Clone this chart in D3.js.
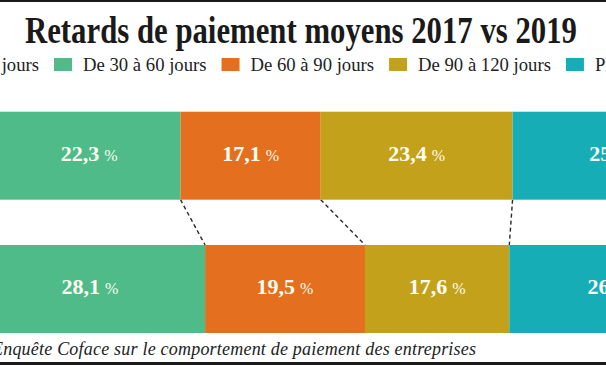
<!DOCTYPE html>
<html>
<head>
<meta charset="utf-8">
<script src="https://cdn.jsdelivr.net/npm/d3@7"></script>
<style>
  html, body { margin: 0; padding: 0; background: #ffffff; }
  svg { display: block; }
</style>
</head>
<body>
<svg id="chart" width="606" height="365"></svg>
<script>
// ---- Data ----
const title = "Retards de paiement moyens 2017 vs 2019";
const source = "Enquête Coface sur le comportement de paiement des entreprises";
const categories = ["Moins de 30 jours", "De 30 à 60 jours", "De 60 à 90 jours", "De 90 à 120 jours", "Plus de 120 jours"];
const years = ["2017", "2019"];
const values2017 = [11.6, 22.3, 17.1, 23.4, 25.6];
const values2019 = [8.8, 28.1, 19.5, 17.6, 26.0];
const colors = ["#8c8f93", "#4fbb89", "#e4701f", "#c4a11b", "#16adb7"];

// ---- Layout ----
const W = 606, H = 365;
const svg = d3.select("#chart");
const serif = "'Liberation Serif', 'Times New Roman', serif";

svg.append("rect").attr("width", W).attr("height", H).attr("fill", "#ffffff");
svg.append("rect").attr("x", 0).attr("y", 0).attr("width", W).attr("height", 2).attr("fill", "#1a1a1a");
svg.append("rect").attr("x", 0).attr("y", 362).attr("width", W).attr("height", 3).attr("fill", "#1a1a1a");

// Title
svg.append("text")
  .attr("x", 301).attr("y", 43)
  .attr("text-anchor", "middle")
  .attr("font-family", serif).attr("font-weight", "bold").attr("font-size", 37)
  .attr("textLength", 552).attr("lengthAdjust", "spacingAndGlyphs")
  .attr("fill", "#1a1a1a")
  .text(title);

// Scales
const x = d3.scaleLinear().domain([0, 100]).range([-97.5, 722.5]);
const y = d3.scaleBand().domain(years).range([111.7, 333]).paddingInner(0.34).paddingOuter(0);
const color = d3.scaleOrdinal().domain(categories).range(colors);

const series = [values2017, values2019].map((vals, i) => {
  let acc = 0;
  return vals.map((v, j) => {
    const d = { year: years[i], cat: categories[j], value: v, x0: acc, x1: acc + v };
    acc += v;
    return d;
  });
});

// Dashed connectors between bars
const boundaries = d3.range(categories.length - 1).map(j => ({
  a: series[0][j].x1, b: series[1][j].x1
}));
svg.append("g").selectAll("line").data(boundaries).join("line")
  .attr("x1", d => x(d.a)).attr("y1", y("2017") + y.bandwidth())
  .attr("x2", d => x(d.b)).attr("y2", y("2019"))
  .attr("stroke", "#2a2a2a").attr("stroke-width", 1.4)
  .attr("stroke-dasharray", "4,3");

// Bars
const gBars = svg.append("g");
series.forEach(row => {
  gBars.selectAll(null).data(row).join("rect")
    .attr("x", d => x(d.x0))
    .attr("y", d => y(d.year))
    .attr("width", d => x(d.x1) - x(d.x0))
    .attr("height", y.bandwidth())
    .attr("fill", d => color(d.cat));
});

// Labels
const fmt = v => d3.format(".1f")(v).replace(".", ",");
series.forEach(row => {
  const t = gBars.selectAll(null).data(row).join("text")
    .attr("x", d => (x(d.x0) + x(d.x1)) / 2)
    .attr("y", d => y(d.year) + y.bandwidth() / 2 + 5)
    .attr("text-anchor", "middle")
    .attr("font-family", serif)
    .attr("fill", "#fffdf2");
  t.append("tspan").attr("font-weight", "bold").attr("font-size", 22).text(d => fmt(d.value));
  t.append("tspan").attr("dx", 5).attr("font-size", 16).text("%");
});

// Legend (chained)
const legendY = 71, sq = 18, sqH = 13, gapIn = 11, gapOut = 15;
const lg = svg.append("g");
const items = lg.selectAll("g").data(categories).join("g");
items.append("rect").attr("width", sq).attr("height", sqH).attr("y", legendY - 13)
  .attr("fill", d => color(d));
items.append("text").attr("x", sq + gapIn).attr("y", legendY)
  .attr("font-family", serif).attr("font-size", 18.7).attr("fill", "#222")
  .text(d => d);
let pos = 0;
const starts = [];
items.each(function () {
  starts.push(pos);
  const w = d3.select(this).select("text").node().getComputedTextLength();
  pos += sq + gapIn + w + gapOut;
});
const offset = 54 - starts[1];
items.attr("transform", (d, i) => `translate(${starts[i] + offset},0)`);

// Source
svg.append("text")
  .attr("x", -8).attr("y", 355)
  .attr("font-family", serif).attr("font-style", "italic").attr("font-size", 18)
  .attr("textLength", 484).attr("lengthAdjust", "spacing")
  .attr("fill", "#222")
  .text(source);
</script>
</body>
</html>
